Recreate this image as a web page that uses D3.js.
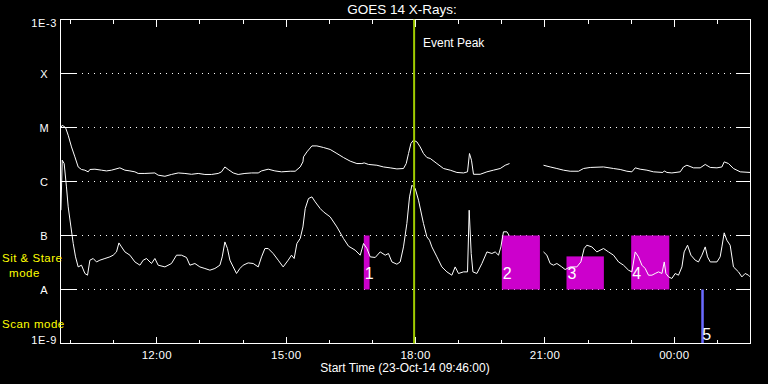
<!DOCTYPE html>
<html><head><meta charset="utf-8">
<script src="https://cdn.jsdelivr.net/npm/d3@7"></script>
<style>
html,body{margin:0;padding:0;background:#000;}
svg{display:block;}
text{font-family:"Liberation Sans",Arial,sans-serif;fill:#fff;}
</style>
</head><body>
<svg id="chart" width="768" height="384"></svg>
<script>
// ---------------- data ----------------
const chartTitle = "GOES 14 X-Rays:";
const xAxisTitle = "Start Time (23-Oct-14 09:46:00)";
const startTime = "2014-10-23T09:46:00Z";
const endTime = "2014-10-24T01:46:00Z";

const xMajorTickLabels = ["12:00", "15:00", "18:00", "21:00", "00:00"];
const yClassFlux = [1e-8, 1e-7, 1e-6, 1e-5, 1e-4];
const yClassLabels = ["A", "B", "C", "M", "X"];
const yEdgeFlux = [1e-9, 1e-3];
const yEdgeLabels = ["1E-9", "1E-3"];

// long channel (1-8 A), minutes after start time; null = data gap
const longMin = [
  0.3,2.4,7.0,10.7,15.3,20.0,24.6,29.2,33.9,38.5,
  40.9,47.9,57.0,64.0,71.0,82.6,89.6,96.6,103.5,108.1,
  117.4,131.3,135.9,145.3,154.4,163.8,173.1,182.3,191.6,200.9,
  210.1,219.4,224.0,228.7,233.3,240.3,247.2,256.6,265.7,275.1,
  279.7,289.0,298.3,307.5,319.6,326.5,333.5,337.3,338.1,342.8,
  349.8,356.7,365.9,375.2,384.6,393.7,403.1,412.4,419.3,422.5,
  428.5,440.2,449.4,458.7,468.0,477.2,481.0,484.2,487.5,491.1,
  495.9,500.4,505.0,509.8,514.4,523.7,532.9,542.2,551.5,560.7,
  566.3,569.0,571.8,574.6,583.9,593.3,602.4,611.8,618.7,624.7,
  648,
  672.0,681.3,690.6,699.8,709.1,720.7,727.7,737.0,755.5,769.4,
  778.7,788.0,795.0,799.6,806.5,815.9,825.0,838.1,840.0,843.7,
  850.6,862.2,866.8,871.5,880.7,890.0,897.0,904.0,913.3,920.2,
  923.4,929.4,936.3,945.7,959.6
];
const longFlux = [
  9.7e-6,1.10e-5,1.0e-5,7.2e-6,4.37e-6,2.86e-6,1.86e-6,1.67e-6,1.62e-6,1.51e-6,
  1.67e-6,1.69e-6,1.62e-6,1.57e-6,1.62e-6,1.79e-6,1.62e-6,1.57e-6,1.51e-6,1.41e-6,
  1.41e-6,1.44e-6,1.31e-6,1.25e-6,1.35e-6,1.44e-6,1.41e-6,1.36e-6,1.41e-6,1.35e-6,
  1.35e-6,1.41e-6,1.51e-6,1.86e-6,1.67e-6,1.44e-6,1.35e-6,1.41e-6,1.44e-6,1.44e-6,
  1.57e-6,1.69e-6,1.57e-6,1.51e-6,1.55e-6,1.55e-6,1.86e-6,2.31e-6,2.86e-6,3.53e-6,
  4.56e-6,4.56e-6,4.26e-6,3.92e-6,3.30e-6,2.78e-6,2.38e-6,2.15e-6,2.15e-6,2.21e-6,
  2.07e-6,2.00e-6,1.86e-6,1.79e-6,1.71e-6,1.74e-6,2.15e-6,3.30e-6,5.06e-6,5.82e-6,
  5.41e-6,4.37e-6,3.30e-6,2.78e-6,2.67e-6,2.15e-6,1.74e-6,1.62e-6,1.47e-6,1.44e-6,
  1.51e-6,3.30e-6,2.48e-6,1.36e-6,1.36e-6,1.51e-6,1.62e-6,1.74e-6,2.00e-6,2.15e-6,
  null,
  2.00e-6,1.86e-6,1.74e-6,1.62e-6,1.55e-6,1.55e-6,1.74e-6,1.82e-6,1.86e-6,1.74e-6,
  1.67e-6,1.55e-6,1.51e-6,1.79e-6,1.69e-6,1.62e-6,1.51e-6,1.47e-6,1.57e-6,1.47e-6,
  1.44e-6,1.51e-6,1.86e-6,2.00e-6,1.79e-6,1.79e-6,2.07e-6,1.82e-6,1.79e-6,1.86e-6,
  2.31e-6,2.15e-6,1.74e-6,1.51e-6,1.47e-6
];

// short channel (0.5-4 A)
const shortMin = [
  0.6,2.4,5.1,8.3,10.7,14.5,17.7,20.9,24.6,29.2,
  33.9,37.6,40.9,45.5,50.1,54.8,61.8,68.7,73.3,77.9,
  81.3,84.9,89.6,96.6,103.5,110.5,115.1,119.7,126.6,131.3,
  135.9,145.3,154.4,161.4,168.3,175.3,180.0,187.0,193.9,200.9,
  207.9,214.8,221.8,225.0,228.7,232.3,235.7,240.3,244.9,249.6,
  254.2,261.1,268.1,275.1,279.7,284.4,289.0,295.9,302.9,309.8,
  316.8,321.4,325.1,328.9,333.5,337.3,340.5,345.0,349.8,354.4,
  361.3,365.9,375.2,384.6,393.7,400.7,410.0,417.0,421.6,426.3,
  430.9,437.9,444.8,451.8,456.3,461.1,468.0,472.6,477.2,481.9,
  485.6,488.9,493.5,498.1,505.0,509.8,513.4,516.7,523.7,530.6,
  537.6,544.5,549.1,553.7,560.7,566.3,568.6,571.4,573.8,579.3,
  586.3,593.3,600.2,604.8,609.4,612.7,616.3,621.1,624.3,648,
  672.0,676.7,681.3,685.9,690.6,697.5,702.1,709.1,718.4,724.0,
  728.6,732.3,739.3,746.2,755.5,762.4,769.4,776.4,783.3,790.3,
  795.0,799.6,804.2,808.9,813.5,818.1,822.9,827.4,832.0,836.8,
  840.0,842.3,846.0,850.6,855.2,859.8,864.6,867.7,872.4,877.1,
  883.1,887.6,892.4,897.0,900.2,904.0,913.3,917.8,920.2,923.4,
  927.1,931.7,936.3,943.3,948.0,952.6,957.2,959.6
];
const shortFlux = [
  2.94e-7,2.48e-6,2.15e-6,7.94e-7,3.39e-7,1.44e-7,7.11e-8,4.02e-8,2.62e-8,2.82e-8,
  1.98e-8,1.84e-8,3.49e-8,3.75e-8,3.24e-8,3.49e-8,3.75e-8,4.02e-8,4.32e-8,4.97e-8,
  7.29e-8,6.15e-8,4.97e-8,4.32e-8,3.24e-8,2.82e-8,3.49e-8,3.75e-8,3.03e-8,3.75e-8,
  2.82e-8,2.62e-8,3.03e-8,4.32e-8,4.32e-8,3.92e-8,2.82e-8,3.03e-8,2.62e-8,2.45e-8,
  2.28e-8,2.45e-8,2.82e-8,4.02e-8,7.60e-8,5.74e-8,3.49e-8,2.62e-8,1.98e-8,2.45e-8,
  2.82e-8,3.11e-8,3.03e-8,2.62e-8,4.02e-8,5.74e-8,5.74e-8,4.64e-8,3.49e-8,2.62e-8,
  3.49e-8,4.32e-8,3.75e-8,7.11e-8,8.80e-8,1.44e-7,3.16e-7,4.84e-7,5.19e-7,4.19e-7,
  3.16e-7,2.74e-7,2.21e-7,1.44e-7,8.80e-8,6.34e-8,5.35e-8,4.32e-8,7.11e-8,5.74e-8,
  4.02e-8,3.92e-8,4.97e-8,4.32e-8,4.64e-8,3.24e-8,2.94e-8,3.24e-8,6.15e-8,1.67e-7,
  5.19e-7,8.54e-7,7.42e-7,4.51e-7,1.67e-7,9.42e-8,8.18e-8,6.15e-8,4.02e-8,2.62e-8,
  2.12e-8,1.84e-8,2.62e-8,1.98e-8,2.12e-8,2.12e-8,2.94e-7,4.64e-8,2.12e-8,1.98e-8,
  3.03e-8,4.97e-8,4.64e-8,4.97e-8,4.32e-8,6.15e-8,1.17e-7,1.17e-7,1.0e-7,null,
  4.97e-8,4.32e-8,3.03e-8,2.82e-8,3.03e-8,2.62e-8,2.34e-8,2.62e-8,2.62e-8,3.24e-8,
  5.74e-8,6.61e-8,6.15e-8,4.97e-8,5.74e-8,4.97e-8,4.32e-8,3.24e-8,2.82e-8,2.28e-8,
  2.12e-8,4.97e-8,4.02e-8,2.82e-8,2.45e-8,1.84e-8,1.84e-8,1.98e-8,2.12e-8,1.98e-8,
  3.24e-8,1.98e-8,1.71e-8,1.60e-8,1.98e-8,1.84e-8,2.62e-8,4.97e-8,6.61e-8,4.32e-8,
  3.49e-8,3.24e-8,4.32e-8,6.15e-8,4.02e-8,3.24e-8,3.24e-8,4.02e-8,6.15e-8,1.12e-7,
  8.18e-8,6.61e-8,2.62e-8,2.12e-8,1.71e-8,1.98e-8,1.84e-8,1.71e-8
];

// observation windows (minutes after start)
const obsLabels = ["1", "2", "3", "4", "5"];
const obsStart = [422, 614, 704, 794, 891.5];
const obsEnd = [430, 667, 756, 847, 895];
const obsTopFlux = [1e-7, 1e-7, 4.1e-8, 1e-7, 1e-8];
const obsBottomFlux = [1e-8, 1e-8, 1e-8, 1e-8, 1e-9];
const obsMode = ["stare", "stare", "stare", "stare", "scan"];

const eventPeakMin = 492;
const eventPeakLabel = "Event Peak";
const modeLabels = ["Sit & Stare", "mode", "Scan mode"];

// ---------------- drawing ----------------
const svg = d3.select("#chart");
const W = 768, H = 384;
const L = 60.5, R = 750.5, T = 19.5, B = 343.5;
svg.append("rect").attr("width", W).attr("height", H).attr("fill", "#000");

const t0 = new Date(startTime), t1 = new Date(endTime);
const toDate = m => new Date(t0.getTime() + m * 60000);
const x = d3.scaleUtc().domain([t0, t1]).range([L, R]);
const y = d3.scaleLog().domain([1e-9, 1e-3]).range([B, T]);

// dotted grid
const grid = svg.append("g");
yClassFlux.forEach(v => {
  const yy = Math.round(y(v) - 0.5) + 0.5;
  grid.append("line").attr("x1", L + 15).attr("x2", R - 15).attr("y1", yy).attr("y2", yy)
    .attr("stroke", "#fff").attr("stroke-width", 1).attr("stroke-dasharray", "1,5")
    .attr("shape-rendering", "crispEdges");
});

// observation windows
const modeColor = { stare: "#cc00cc", scan: "#6a6aff" };
const obs = obsLabels.map((l, i) => ({ l, s: obsStart[i], e: obsEnd[i], top: obsTopFlux[i], bot: obsBottomFlux[i], mode: obsMode[i] }));
svg.append("g").selectAll("rect").data(obs).join("rect")
  .attr("x", d => x(toDate(d.s)))
  .attr("width", d => x(toDate(d.e)) - x(toDate(d.s)))
  .attr("y", d => y(d.top))
  .attr("height", d => y(d.bot) - y(d.top))
  .attr("fill", d => modeColor[d.mode]);

// curves
const line = d3.line().defined(d => d[1] != null)
  .x(d => x(toDate(d[0]))).y(d => y(d[1]));
svg.append("path").datum(d3.zip(longMin, longFlux)).attr("d", line)
  .attr("fill", "none").attr("stroke", "#fff").attr("stroke-width", 1);
svg.append("path").datum(d3.zip(shortMin, shortFlux)).attr("d", line)
  .attr("fill", "none").attr("stroke", "#fff").attr("stroke-width", 1);

// frame
const frame = svg.append("g").attr("stroke", "#fff").attr("stroke-width", 1).attr("shape-rendering", "crispEdges");
frame.append("rect").attr("x", L).attr("y", T).attr("width", R - L).attr("height", B - T).attr("fill", "none");

// x ticks (hourly; major every 3 h)
const hours = d3.utcHour.range(t0, t1);
hours.forEach(h => {
  const xx = Math.round(x(h) - 0.5) + 0.5;
  const len = h.getUTCHours() % 3 === 0 ? 7 : 4;
  frame.append("line").attr("x1", xx).attr("x2", xx).attr("y1", T).attr("y2", T + len);
  frame.append("line").attr("x1", xx).attr("x2", xx).attr("y1", B).attr("y2", B - len);
});
const majors = hours.filter(h => h.getUTCHours() % 3 === 0);
svg.append("g").selectAll("text").data(majors).join("text")
  .attr("x", d => x(d)).attr("y", 359).attr("text-anchor", "middle")
  .attr("font-size", 11.5).attr("letter-spacing", 0.3).text((d, i) => xMajorTickLabels[i]);

// y ticks
yClassFlux.forEach(v => {
  const yy = Math.round(y(v) - 0.5) + 0.5;
  frame.append("line").attr("x1", L).attr("x2", L + 15).attr("y1", yy).attr("y2", yy);
  frame.append("line").attr("x1", R - 15).attr("x2", R).attr("y1", yy).attr("y2", yy);
});
svg.append("g").selectAll("text").data(yClassFlux).join("text")
  .attr("x", 44).attr("y", d => y(d) + 4).attr("text-anchor", "middle")
  .attr("font-size", 11).text((d, i) => yClassLabels[i]);
svg.append("g").selectAll("text").data(yEdgeFlux).join("text")
  .attr("x", 57).attr("y", (d, i) => i === 0 ? y(d) + 0.5 : y(d) + 7.5).attr("text-anchor", "end")
  .attr("font-size", 11).attr("letter-spacing", 0.6).text((d, i) => yEdgeLabels[i]);

// event peak
const ex = x(toDate(eventPeakMin));
svg.append("line").attr("x1", ex).attr("x2", ex).attr("y1", T).attr("y2", B)
  .attr("stroke", "#a0cc00").attr("stroke-width", 2);
svg.append("text").attr("x", 423).attr("y", 47).attr("font-size", 12).text(eventPeakLabel);

// window labels
svg.append("g").selectAll("text").data(obs).join("text")
  .attr("x", d => x(toDate(d.s)) + 1)
  .attr("y", d => d.mode === "scan" ? y(d.bot) - 4 : y(d.bot) - 11)
  .attr("font-size", 16).text(d => d.l);

// titles
svg.append("text").attr("x", 402).attr("y", 14).attr("text-anchor", "middle")
  .attr("font-size", 13.5).text(chartTitle);
svg.append("text").attr("x", 405).attr("y", 372).attr("text-anchor", "middle")
  .attr("font-size", 12).text(xAxisTitle);

// mode labels
svg.append("text").attr("x", 2).attr("y", 262).attr("font-size", 11.5).attr("letter-spacing", 0.5).style("fill", "#ffff00").text(modeLabels[0]);
svg.append("text").attr("x", 24.5).attr("y", 276.5).attr("text-anchor", "middle").attr("font-size", 11.5).attr("letter-spacing", 0.5).style("fill", "#ffff00").text(modeLabels[1]);
svg.append("text").attr("x", 2).attr("y", 328).attr("font-size", 11.5).attr("letter-spacing", 0.5).style("fill", "#ffff00").text(modeLabels[2]);
</script>
</body></html>
